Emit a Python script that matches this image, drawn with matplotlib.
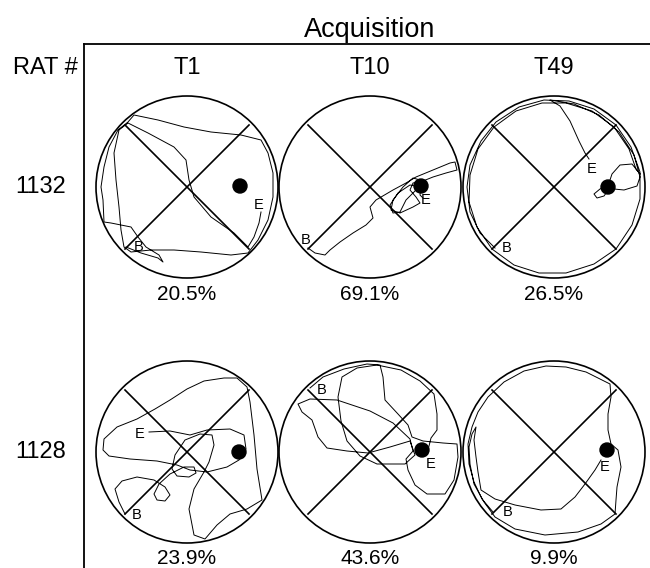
import numpy as np
import matplotlib
matplotlib.use('Agg')
import matplotlib.pyplot as plt
from matplotlib.lines import Line2D
from matplotlib.patches import Circle

plt.rcParams['font.family'] = ['Liberation Sans', 'DejaVu Sans']

# --- data (pool coordinates in cm, origin = pool centre, y up) ---
rats = ['1132', '1128']
trials = ['T1', 'T10', 'T49']
pct_1132 = [20.5, 69.1, 26.5]
pct_1128 = [23.9, 43.6, 9.9]

platform_1132 = [(53, 1), (51, 1), (54, 0)]
platform_1128 = [(52, 0), (52, 2), (53, 2)]

# where the B (begin) and E (end) marks are written
b_mark_1132 = [(-48, -60), (-64, -53), (-47, -61)]
e_mark_1132 = [(72, -18), (56, -13), (38, 18)]
b_mark_1128 = [(-50, -63), (-48, 62), (-46, -60)]
e_mark_1128 = [(-47, 18), (61, -12), (51, -15)]

# swim paths
path_1132_t1 = [(-61, -60), (-46, -66), (-29, -71), (-24, -75), (-28, -68), (-41, -60), (-49, -50),
                (-56, -40), (-76, -36), (-83, -35), (-84, -13), (-86, 0), (-83, 20), (-78, 40),
                (-69, 57), (-59, 65), (-53, 72), (-29, 67), (-3, 60), (24, 55), (54, 52), (74, 47),
                (81, 34), (86, 14), (86, -10), (81, -33), (71, -53), (61, -66), (44, -68), (14, -65),
                (-13, -63), (-36, -63), (-56, -65), (-63, -60), (-66, -43), (-68, -20), (-71, 7),
                (-73, 34), (-68, 57), (-59, 64), (-39, 54), (-13, 40), (-1, 27), (2, 7), (7, -10),
                (24, -30), (47, -46), (61, -60), (67, -50), (72, -36), (74, -25)]
path_1132_t10 = [(-62, -61), (-55, -66), (-45, -68), (-40, -63), (-30, -55), (-17, -46), (-4, -38),
                 (3, -31), (0, -20), (6, -13), (23, -3), (36, 4), (46, 10), (63, 17), (80, 24),
                 (85, 25), (87, 17), (76, 14), (63, 10), (53, 6), (43, 4), (40, -3), (46, -10),
                 (50, -16), (43, -20), (30, -26), (21, -23), (23, -13), (33, 0), (43, 9), (50, 7),
                 (46, -3), (36, -13), (30, -25), (23, -26), (20, -18), (28, -6), (40, 2), (51, 0),
                 (50, -8), (53, -11)]
path_1132_t49 = [(-59, -61), (-74, -46), (-84, -25), (-87, 0), (-84, 22), (-73, 46), (-58, 65),
                 (-35, 80), (-10, 87), (15, 86), (40, 78), (62, 62), (77, 40), (86, 15), (86, -12),
                 (78, -38), (62, -62), (40, -77), (12, -86), (-15, -86), (-40, -78), (-62, -62),
                 (-77, -40), (-85, -15), (-84, 12), (-76, 38), (-60, 60), (-38, 76), (-12, 84),
                 (12, 84), (38, 76), (60, 60), (75, 38), (82, 18), (86, 13), (78, 23), (66, 22),
                 (58, 13), (55, 4), (53, 1), (46, -2), (40, -7), (43, -11), (50, -9), (55, -2),
                 (60, -2), (70, -3), (83, 1), (86, 10), (80, 32), (65, 55), (45, 72), (20, 83),
                 (-4, 87), (6, 81), (16, 66), (25, 46), (31, 34), (35, 28)]
path_1128_t1 = [(-62, -62), (-68, -50), (-72, -37), (-65, -29), (-50, -25), (-33, -28), (-22, -35),
                (-17, -43), (-22, -49), (-30, -48), (-33, -42), (-28, -32), (-17, -22), (-3, -15),
                (7, -15), (9, -21), (2, -25), (-10, -24), (-15, -17), (-12, -3), (-2, 12), (13, 18),
                (25, 17), (27, 7), (22, -10), (17, -20), (7, -37), (2, -57), (7, -83), (18, -87),
                (30, -73), (43, -62), (60, -57), (75, -48), (70, -17), (67, 17), (63, 50), (60, 65),
                (50, 74), (37, 74), (17, 71), (0, 63), (-17, 52), (-32, 43), (-50, 33), (-70, 25),
                (-83, 13), (-84, 2), (-78, -4), (-57, -7), (-30, -9), (-10, -13), (3, -18),
                (20, -20), (40, -15), (52, -8), (59, 3), (57, 17), (43, 23), (20, 22), (3, 17),
                (-17, 21), (-38, 20)]
path_1128_t10 = [(-60, 64), (-47, 75), (-26, 83), (-3, 88), (10, 87), (13, 75), (15, 52), (28, 38),
                 (38, 27), (42, 15), (53, 11), (73, 9), (87, 8), (88, -5), (84, -28), (75, -42),
                 (57, -42), (45, -33), (38, -18), (36, -7), (43, 1), (40, 13), (23, 29), (0, 41),
                 (-33, 52), (-60, 53), (-72, 48), (-68, 40), (-58, 32), (-52, 15), (-43, 4),
                 (-23, 1), (-2, -1), (20, 5), (40, 11), (45, -3), (35, -12), (7, -12), (-10, -4),
                 (-23, 11), (-29, 31), (-32, 55), (-28, 75), (-13, 84), (7, 87), (31, 82), (50, 71),
                 (64, 58), (67, 38), (67, 22), (61, 14), (57, -2)]
path_1128_t49 = [(-61, -60), (-72, -47), (-80, -30), (-85, -12), (-86, 8), (-82, 25), (-76, 40),
                 (-66, 55), (-50, 70), (-30, 81), (-8, 86), (12, 85), (32, 80), (48, 72), (56, 68),
                 (57, 55), (54, 38), (54, 22), (57, 8), (64, 2), (67, -15), (63, -35), (62, -48),
                 (61, -62), (47, -72), (24, -80), (-9, -83), (-39, -77), (-59, -65), (-70, -50),
                 (-80, -32), (-84, -12), (-85, 5), (-82, 18), (-78, 25), (-80, 12), (-78, -5),
                 (-76, -20), (-73, -38), (-59, -47), (-39, -53), (-13, -58), (7, -57), (21, -45),
                 (31, -32), (41, -18), (47, -8)]

paths = [[path_1132_t1, path_1132_t10, path_1132_t49],
         [path_1128_t1, path_1128_t10, path_1128_t49]]
pcts = [pct_1132, pct_1128]
platforms = [platform_1132, platform_1128]
b_marks = [b_mark_1132, b_mark_1128]
e_marks = [e_mark_1132, e_mark_1128]

POOL_R = 91
PLAT_R = 7
ARM = 62  # quadrant lines

# --- layout (pixels) ---
W, H = 650, 568
col_px = [187, 370, 554]
row_px = [187, 452]


def fx(px):
    return px / W


def fy(py):
    return 1 - py / H


fig = plt.figure(figsize=(W / 100, H / 100), dpi=100)

for r in range(2):
    for c in range(3):
        ax = fig.add_axes([fx(col_px[c] - 100), fy(row_px[r] + 100), 200 / W, 200 / H])
        ax.set_xlim(-100, 100)
        ax.set_ylim(-100, 100)
        ax.set_aspect('equal')
        ax.axis('off')
        ax.patch.set_alpha(0)

        ax.add_patch(Circle((0, 0), POOL_R, fill=False, lw=1.2, ec='black'))
        ax.plot([-ARM, ARM], [ARM, -ARM], color='black', lw=1.2)
        ax.plot([-ARM, ARM], [-ARM, ARM], color='black', lw=1.2)

        p = np.array(paths[r][c])
        ax.plot(p[:, 0], p[:, 1], color='black', lw=0.7, solid_joinstyle='round')

        ax.add_patch(Circle(platforms[r][c], PLAT_R, color='black'))

        bx, by = b_marks[r][c]
        ex, ey = e_marks[r][c]
        ax.text(bx, by, 'B', fontsize=10.5, ha='center', va='center')
        ax.text(ex, ey, 'E', fontsize=10.5, ha='center', va='center')

        ax.text(0, -107, f'{pcts[r][c]}%', fontsize=15, ha='center', va='center',
                clip_on=False)

# headings
fig.text(fx(370), fy(37), 'Acquisition', fontsize=19.5, ha='center', va='baseline')
fig.text(fx(45), fy(74), 'RAT #', fontsize=17, ha='center', va='baseline')
for c, t in enumerate(trials):
    fig.text(fx(col_px[c]), fy(74), t, fontsize=17, ha='center', va='baseline')
for r, rat in enumerate(rats):
    fig.text(fx(41), fy(row_px[r]), rat, fontsize=17, ha='center', va='center')

# L-shaped frame
fig.add_artist(Line2D([fx(84), fx(84)], [0, fy(44)], color='black', lw=1.3))
fig.add_artist(Line2D([fx(84), 1], [fy(44), fy(44)], color='black', lw=1.3))

fig.savefig('out.png', dpi=100)
